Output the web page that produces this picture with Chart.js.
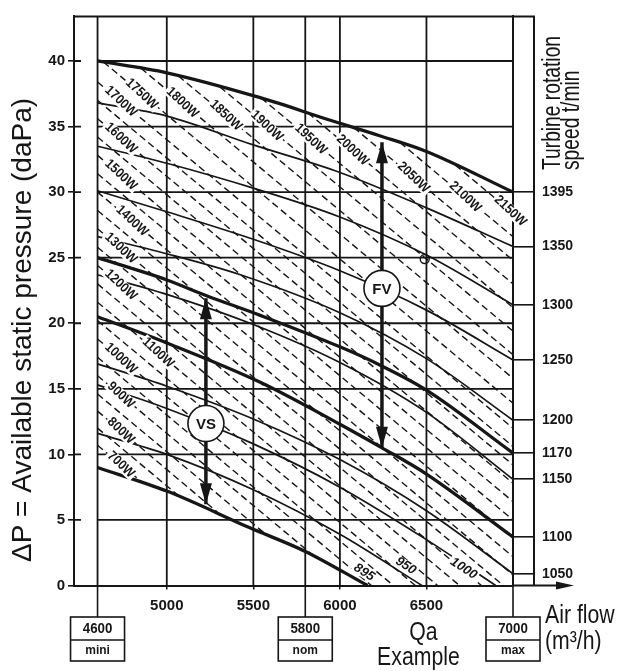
<!DOCTYPE html>
<html>
<head>
<meta charset="utf-8">
<script src="https://cdn.jsdelivr.net/npm/chart.js@4.4.0/dist/chart.umd.min.js"></script>
<style>
  html, body { margin: 0; padding: 0; background: #fff; }
</style>
</head>
<body>
<canvas id="fanChart" width="637" height="671"></canvas>
<script>
// Fan selection diagram: available static pressure vs air flow

// axis ticks
const pressureTicks = [0, 5, 10, 15, 20, 25, 30, 35, 40];
const flowTicks = [5000, 5500, 6000, 6500];
const flowGrid = [4600, 5000, 5500, 5800, 6000, 6500, 7000];
const flowMarked = [4600, 5800, 7000];
const flowMarkedNames = ["mini", "nom", "max"];

// turbine speed axis (right), pressure where each speed curve meets 7000 m3/h
const rpmTickPressure = [30.0, 25.85, 21.4, 17.2, 12.6, 10.1, 8.1, 3.7, 0.9];
const rpmTickLabels = ["1395", "1350", "1300", "1250", "1200", "1170", "1150", "1100", "1050"];

// speed curves (solid)
const rpmValues = [1395, 1350, 1300, 1250, 1200, 1170, 1150, 1100, 1050, 1000, 950, 895];
const thickRpm = [1395, 1170, 1100, 895];
const rpmFlow = [
    [4600, 5000, 5540, 5940, 6230, 6500, 7000],
    [4600, 5000, 5500, 6000, 6500, 7000],
    [4600, 5000, 5500, 6000, 6500, 7000],
    [4600, 5000, 5500, 6000, 6500, 7000],
    [4600, 5000, 5425, 6000, 6500, 7000],
    [4600, 5000, 5230, 5540, 6000, 6233, 6500, 7000],
    [4600, 5000, 5500, 6000, 6500, 7000],
    [4600, 5000, 5540, 6000, 6243, 6500, 7000],
    [4600, 5000, 5500, 6000, 6500, 7000],
    [4600, 5000, 5500, 6000, 6500, 6900],
    [4600, 5000, 5500, 6000, 6474],
    [4600, 5000, 5480, 5800, 6160]
];
const rpmPressure = [
    [40.0, 39.1, 37.2, 35.5, 34.3, 33.1, 30.0],
    [36.8, 35.8, 33.6, 31.5, 28.8, 25.85],
    [33.5, 32.2, 30.3, 28.1, 25.2, 21.4],
    [30.1, 28.5, 26.4, 24.0, 21.0, 17.2],
    [26.6, 25.3, 23.7, 20.8, 17.3, 12.6],
    [25.0, 23.3, 22.1, 20.6, 18.2, 16.8, 14.9, 10.1],
    [23.7, 22.2, 19.9, 17.0, 13.2, 8.1],
    [20.5, 18.5, 15.5, 12.3, 10.5, 8.5, 3.7],
    [16.9, 15.2, 12.7, 9.6, 5.7, 0.9],
    [15.3, 13.5, 10.8, 7.5, 3.5, 0.0],
    [11.6, 10.0, 7.3, 3.9, 0.0],
    [9.0, 7.2, 4.4, 2.6, 0.0]
];
const rpmLabelNames = ["895", "950", "1000"];
const rpmLabelFlow = [6140, 6380, 6715];
const rpmLabelPressure = [1.0, 1.5, 1.3];

// absorbed power lines (dashed), start and end of each line
const powerWatts = [700, 750, 800, 850, 900, 950, 1000, 1050, 1100, 1150, 1200, 1250, 1300, 1350, 1400,
    1450, 1500, 1550, 1600, 1650, 1700, 1750, 1800, 1850, 1900, 1950, 2000, 2050, 2100, 2150];
const powerStartFlow = [4600, 4600, 4600, 4600, 4600, 4600, 4600, 4600, 4600, 4600, 4600, 4600, 4600, 4600, 4600,
    4600, 4600, 4600, 4600, 4600, 4600, 4634, 4851, 5067, 5307, 5545, 5816, 6080, 6347, 6667];
const powerStartPressure = [10.7, 12.0, 13.3, 14.6, 16.0, 17.4, 18.8, 20.2, 21.6, 23.0, 24.4, 25.8, 27.2, 28.6, 30.0,
    31.4, 32.8, 34.2, 35.6, 37.0, 38.4, 39.92, 39.44, 38.86, 38.02, 37.18, 36.03, 34.92, 33.78, 32.06];
const powerEndFlow = [4862, 5077, 5329, 5577, 5853, 6182, 6309, 6436, 6564, 6691, 6818, 6945, 7000, 7000, 7000,
    7000, 7000, 7000, 7000, 7000, 7000, 7000, 7000, 7000, 7000, 7000, 7000, 7000, 7000, 7000];
const powerEndPressure = [7.82, 6.75, 5.18, 3.85, 2.22, 0, 0, 0, 0, 0, 0, 0, 0.8, 2.2, 3.6,
    5.0, 6.4, 7.8, 9.2, 10.6, 12.0, 13.9, 15.8, 17.6, 19.4, 21.2, 23.0, 24.8, 26.6, 28.4];
const powerLabelWatts = [700, 800, 900, 1000, 1100, 1200, 1300, 1400, 1500, 1600, 1700,
    1750, 1800, 1850, 1900, 1950, 2000, 2050, 2100, 2150];
const powerLabelFlow = [4735, 4735, 4735, 4735, 4950, 4735, 4735, 4800, 4735, 4735, 4735,
    4855, 5090, 5341, 5578, 5832, 6073, 6425, 6724, 6985];

// operating ranges
const vsFlow = 5226, vsRange = [21.9, 6.2], vsMark = 12.35;
const fvFlow = 6243, fvRange = [33.8, 10.5], fvMark = 22.66;
const exampleFlow = 6490, examplePressure = 24.9;

const ink = "#161616";
const family = "'Liberation Sans', Arial, Helvetica, sans-serif";

function drawText(ctx, text, x, y, o) {
    ctx.save();
    ctx.translate(x, y);
    if (o.rotate) ctx.rotate(o.rotate);
    ctx.scale(o.sx || 1, 1);
    ctx.font = o.font;
    ctx.textAlign = o.align || "left";
    ctx.textBaseline = o.baseline || "alphabetic";
    if (o.bg) {
        const w = ctx.measureText(text).width;
        ctx.fillStyle = "#fff";
        ctx.fillRect(-w / 2 - 2, -o.bgH / 2, w + 4, o.bgH);
    }
    ctx.fillStyle = ink;
    ctx.fillText(text, 0, 0);
    ctx.restore();
}

function interp(xs, ys, v) {
    for (let i = 0; i < xs.length - 1; i++) {
        if (v >= xs[i] && v <= xs[i + 1]) {
            return ys[i] + (v - xs[i]) / (xs[i + 1] - xs[i]) * (ys[i + 1] - ys[i]);
        }
    }
    return ys[ys.length - 1];
}

function arrowHead(ctx, x, yTip, dir) {
    // dir = -1 points up, 1 points down
    ctx.beginPath();
    ctx.moveTo(x, yTip);
    ctx.lineTo(x - 6, yTip - dir * 21);
    ctx.lineTo(x + 6, yTip - dir * 21);
    ctx.closePath();
    ctx.fill();
}

const fanDiagram = {
    id: "fanDiagram",
    beforeDatasetsDraw(chart) {
        const ctx = chart.ctx, xs = chart.scales.x, ys = chart.scales.y, area = chart.chartArea;
        const x0 = xs.getPixelForValue(4600), x1 = xs.getPixelForValue(7000);
        const yBase = ys.getPixelForValue(0);
        ctx.save();
        ctx.strokeStyle = ink;
        ctx.lineWidth = 1.8;
        ctx.beginPath();
        pressureTicks.forEach(p => {
            if (p === 0) return;
            const y = ys.getPixelForValue(p);
            ctx.moveTo(x0, y); ctx.lineTo(x1, y);
            // tick crossing the axis line
            ctx.moveTo(area.left, y); ctx.lineTo(area.left + 7, y);
        });
        flowGrid.forEach(f => {
            const x = xs.getPixelForValue(f);
            ctx.moveTo(x, yBase); ctx.lineTo(x, area.top);
        });
        ctx.stroke();
        // frame: top edge and speed column
        ctx.lineWidth = 2;
        ctx.beginPath();
        ctx.moveTo(area.left, area.top); ctx.lineTo(x1 + 21, area.top);
        ctx.lineTo(x1 + 21, yBase);
        ctx.stroke();
        ctx.restore();
    },
    afterDraw(chart) {
        const ctx = chart.ctx, xs = chart.scales.x, ys = chart.scales.y;
        const X = v => xs.getPixelForValue(v), Y = v => ys.getPixelForValue(v);
        const yBase = Y(0);
        ctx.save();

        // power labels along their dashed lines
        powerLabelWatts.forEach((w, k) => {
            const i = powerWatts.indexOf(w);
            const fx = powerLabelFlow[k];
            const fy = interp([powerStartFlow[i], powerEndFlow[i]], [powerStartPressure[i], powerEndPressure[i]], fx);
            const ang = Math.atan2(Y(powerEndPressure[i]) - Y(powerStartPressure[i]), X(powerEndFlow[i]) - X(powerStartFlow[i]));
            drawText(ctx, w + "W", X(fx), Y(fy), { font: "bold 13.5px " + family, align: "center", baseline: "middle", rotate: ang + 0.06, sx: 0.9, bg: true, bgH: 12 });
        });

        // speed labels near the bottom
        rpmLabelNames.forEach((t, k) => {
            drawText(ctx, t, X(rpmLabelFlow[k]), Y(rpmLabelPressure[k]), { font: "italic bold 13px " + family, align: "center", baseline: "middle", rotate: 0.58, bg: true, bgH: 11 });
        });

        // operating range arrows
        ctx.fillStyle = ink;
        arrowHead(ctx, X(vsFlow), Y(vsRange[0]), -1);
        arrowHead(ctx, X(vsFlow), Y(vsRange[1]), 1);
        arrowHead(ctx, X(fvFlow), Y(fvRange[0]), -1);
        arrowHead(ctx, X(fvFlow), Y(fvRange[1]), 1);
        [[vsFlow, vsMark, "VS"], [fvFlow, fvMark, "FV"]].forEach(([f, p, t]) => {
            ctx.beginPath();
            ctx.arc(X(f), Y(p), 18, 0, Math.PI * 2);
            ctx.fillStyle = "#fff"; ctx.fill();
            ctx.lineWidth = 1.6; ctx.strokeStyle = ink; ctx.stroke();
            drawText(ctx, t, X(f), Y(p) + 1, { font: "bold 15px " + family, align: "center", baseline: "middle" });
        });

        // air flow axis arrow
        const x7 = X(7000);
        ctx.strokeStyle = ink; ctx.fillStyle = ink; ctx.lineWidth = 2;
        ctx.beginPath(); ctx.moveTo(x7, yBase); ctx.lineTo(558, yBase); ctx.stroke();
        ctx.beginPath(); ctx.moveTo(574, yBase); ctx.lineTo(556, yBase - 4); ctx.lineTo(556, yBase + 4); ctx.closePath(); ctx.fill();

        // mini / nom / max boxes
        ctx.lineWidth = 1.6;
        flowMarked.forEach((f, k) => {
            const x = X(f);
            ctx.beginPath(); ctx.moveTo(x, yBase); ctx.lineTo(x, 617); ctx.stroke();
            ctx.strokeRect(x - 27, 617, 54, 44);
            ctx.beginPath(); ctx.moveTo(x - 27, 640); ctx.lineTo(x + 27, 640); ctx.stroke();
            drawText(ctx, String(f), x, 629, { font: "bold 14px " + family, align: "center", baseline: "middle", sx: 0.95 });
            drawText(ctx, flowMarkedNames[k], x, 651, { font: "bold 12px " + family, align: "center", baseline: "middle" });
        });

        // example operating point
        ctx.beginPath();
        ctx.arc(X(exampleFlow), Y(examplePressure), 4.5, 0, Math.PI * 2);
        ctx.lineWidth = 1.4; ctx.stroke();

        // titles
        drawText(ctx, "\u0394P = Available static pressure (daPa)", 31, 330, { font: "28px " + family, align: "center", rotate: -Math.PI / 2, sx: 1.0 });
        drawText(ctx, "Turbine rotation", 560, 170, { font: "26px " + family, rotate: -Math.PI / 2, sx: 0.74 });
        drawText(ctx, "speed t/min", 579, 170, { font: "26px " + family, rotate: -Math.PI / 2, sx: 0.74 });
        drawText(ctx, "Air flow", 545, 623, { font: "25px " + family, sx: 0.85 });
        drawText(ctx, "(m\u00b3/h)", 545, 649, { font: "25px " + family, sx: 0.85 });
        drawText(ctx, "Qa", X(6500) - 3, 640, { font: "25px " + family, align: "center", sx: 0.85 });
        drawText(ctx, "Example", X(6500) - 8, 665, { font: "25px " + family, align: "center", sx: 0.85 });
        ctx.restore();
    }
};

const datasets = [];
powerWatts.forEach((w, i) => {
    datasets.push({
        label: w + "W",
        data: [{ x: powerStartFlow[i], y: powerStartPressure[i] }, { x: powerEndFlow[i], y: powerEndPressure[i] }],
        borderColor: ink,
        borderWidth: 1.4,
        borderDash: [7, 4],
        pointRadius: 0
    });
});
rpmValues.forEach((r, i) => {
    datasets.push({
        label: r + " t/min",
        data: rpmFlow[i].map((f, j) => ({ x: f, y: rpmPressure[i][j] })),
        borderColor: ink,
        borderWidth: thickRpm.includes(r) ? 3.3 : 1.7,
        cubicInterpolationMode: "monotone",
        pointRadius: 0
    });
});
// arrow shafts
[[vsFlow, vsRange], [fvFlow, fvRange]].forEach(([f, range]) => {
    datasets.push({
        label: "range",
        data: [{ x: f, y: range[0] }, { x: f, y: range[1] }],
        borderColor: ink,
        borderWidth: 3.5,
        pointRadius: 0
    });
});

const tickFont = { family: family, size: 15, weight: "bold" };

new Chart(document.getElementById("fanChart"), {
    type: "line",
    data: { datasets: datasets },
    options: {
        responsive: false,
        animation: false,
        devicePixelRatio: 1,
        layout: { padding: { top: 10, left: 10, right: 0, bottom: 0 } },
        plugins: { legend: { display: false }, tooltip: { enabled: false } },
        scales: {
            x: {
                type: "linear",
                min: 4464,
                max: 7000,
                grid: { drawOnChartArea: false, tickLength: 4, color: ink, lineWidth: 1.5 },
                border: { color: ink, width: 2 },
                ticks: { font: tickFont, color: ink, padding: 7, maxRotation: 0, autoSkip: false, callback: v => String(v) },
                afterBuildTicks: s => { s.ticks = flowTicks.map(v => ({ value: v })); },
                afterFit: s => { s.height = 85.5; }
            },
            y: {
                type: "linear",
                min: 0,
                max: 43.4,
                grid: { drawOnChartArea: false, tickLength: 6, color: ink, lineWidth: 1.6 },
                border: { color: ink, width: 2 },
                ticks: { font: tickFont, color: ink, padding: 3, includeBounds: false },
                afterBuildTicks: s => { s.ticks = pressureTicks.map(v => ({ value: v })); },
                afterFit: s => { s.width = 64; }
            },
            y2: {
                type: "linear",
                position: "right",
                min: 0,
                max: 43.4,
                grid: { drawOnChartArea: false, tickLength: 21, color: ink, lineWidth: 1.6 },
                border: { color: ink, width: 2 },
                ticks: {
                    font: { family: family, size: 14, weight: "bold" },
                    color: ink,
                    padding: 8,
                    callback: (v, i) => rpmTickLabels[i]
                },
                afterBuildTicks: s => { s.ticks = rpmTickPressure.map(v => ({ value: v })); },
                afterFit: s => { s.width = 124; }
            }
        }
    },
    plugins: [fanDiagram]
});
</script>
</body>
</html>
